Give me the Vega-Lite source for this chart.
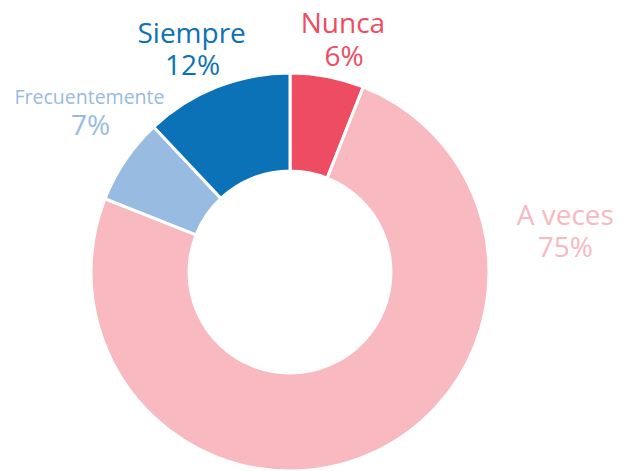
{
  "$schema": "https://vega.github.io/schema/vega-lite/v6.json",
  "autosize": {"type": "none"},
  "padding": {"left": 0, "top": 73, "right": 42, "bottom": 0},
  "width": 580,
  "height": 398,
  "background": "white",
  "view": {"stroke": null},
  "config": {"text": {"font": "Open Sans", "fontWeight": "normal", "baseline": "alphabetic", "align": "center"}},
  "data": {"values": [
    {"cat": "Nunca", "value": 0.06, "idx": 1},
    {"cat": "A veces", "value": 0.75, "idx": 2},
    {"cat": "Frecuentemente", "value": 0.07, "idx": 3},
    {"cat": "Siempre", "value": 0.12, "idx": 4}
  ]},
  "encoding": {
    "theta": {"field": "value", "type": "quantitative", "stack": true},
    "order": {"field": "idx", "type": "quantitative", "sort": "ascending"},
    "color": {
      "field": "cat", "type": "nominal",
      "scale": {"domain": ["Nunca", "A veces", "Frecuentemente", "Siempre"], "range": ["#EE4C63", "#F8B9C1", "#98BBE1", "#0B72B8"]},
      "legend": null
    }
  },
  "layer": [
    {"mark": {"type": "arc", "radius": 199, "innerRadius": 101, "stroke": "white", "strokeWidth": 3}},
    {"mark": {"type": "text", "radius": 240, "fontSize": 28, "dx": 8, "dy": -3},
     "encoding": {"text": {"condition": {"test": "datum.cat === 'Nunca'", "field": "cat"}, "value": ""}}},
    {"mark": {"type": "text", "radius": 240, "fontSize": 28, "dx": 9, "dy": 30},
     "encoding": {"text": {"condition": {"test": "datum.cat === 'Nunca'", "field": "value", "type": "quantitative", "format": ".0%"}, "value": ""}}},
    {"mark": {"type": "text", "radius": 240, "fontSize": 28, "dx": 180, "dy": -267},
     "encoding": {"text": {"condition": {"test": "datum.cat === 'A veces'", "field": "cat"}, "value": ""}}},
    {"mark": {"type": "text", "radius": 240, "fontSize": 28, "dx": 180, "dy": -235},
     "encoding": {"text": {"condition": {"test": "datum.cat === 'A veces'", "field": "value", "type": "quantitative", "format": ".0%"}, "value": ""}}},
    {"mark": {"type": "text", "radius": 240, "fontSize": 19.5, "dx": -2, "dy": -33},
     "encoding": {"text": {"condition": {"test": "datum.cat === 'Frecuentemente'", "field": "cat"}, "value": ""}}},
    {"mark": {"type": "text", "radius": 240, "fontSize": 28, "dx": -1, "dy": -2},
     "encoding": {"text": {"condition": {"test": "datum.cat === 'Frecuentemente'", "field": "value", "type": "quantitative", "format": ".0%"}, "value": ""}}},
    {"mark": {"type": "text", "radius": 240, "fontSize": 28, "dx": -10, "dy": -6},
     "encoding": {"text": {"condition": {"test": "datum.cat === 'Siempre'", "field": "cat"}, "value": ""}}},
    {"mark": {"type": "text", "radius": 240, "fontSize": 28, "dx": -9, "dy": 26},
     "encoding": {"text": {"condition": {"test": "datum.cat === 'Siempre'", "field": "value", "type": "quantitative", "format": ".0%"}, "value": ""}}}
  ]
}
